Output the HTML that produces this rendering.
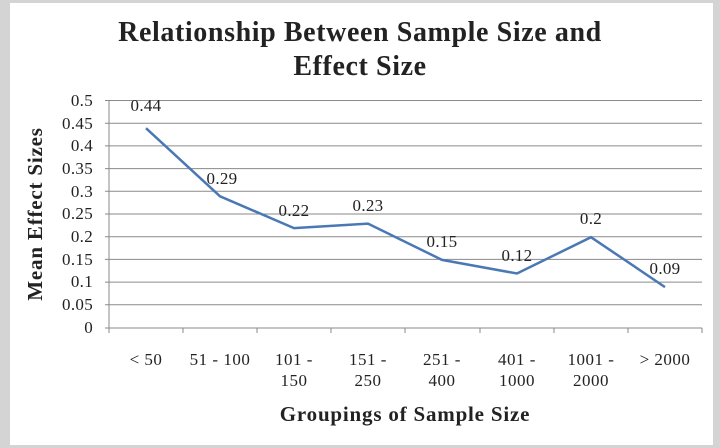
<!DOCTYPE html>
<html><head><style>
body{margin:0;width:720px;height:448px;background:#d4d4d4;overflow:hidden}
svg{display:block}
text{font-family:"Liberation Serif",serif;fill:#222}
</style></head><body>
<svg width="720" height="448" viewBox="0 0 720 448">
<rect x="10" y="3" width="703" height="442" fill="#fff"/>
<text x="360" y="41" text-anchor="middle" font-size="28" font-weight="bold" letter-spacing="0.6">Relationship Between Sample Size and</text>
<text x="360" y="75" text-anchor="middle" font-size="28" font-weight="bold" letter-spacing="0.6">Effect Size</text>
<g stroke="#8a8a8a" stroke-width="1">
<line x1="105" x2="702" y1="100.5" y2="100.5"/><line x1="105" x2="702" y1="123.2" y2="123.2"/>
<line x1="105" x2="702" y1="145.9" y2="145.9"/><line x1="105" x2="702" y1="168.6" y2="168.6"/>
<line x1="105" x2="702" y1="191.3" y2="191.3"/><line x1="105" x2="702" y1="214" y2="214"/>
<line x1="105" x2="702" y1="236.7" y2="236.7"/><line x1="105" x2="702" y1="259.4" y2="259.4"/>
<line x1="105" x2="702" y1="282.1" y2="282.1"/><line x1="105" x2="702" y1="304.8" y2="304.8"/>
<line x1="105" x2="702" y1="328" y2="328"/>
<line x1="109" x2="109" y1="100" y2="333"/>
<line x1="183" x2="183" y1="328" y2="333"/><line x1="257" x2="257" y1="328" y2="333"/>
<line x1="331" x2="331" y1="328" y2="333"/><line x1="405" x2="405" y1="328" y2="333"/>
<line x1="480" x2="480" y1="328" y2="333"/><line x1="554" x2="554" y1="328" y2="333"/>
<line x1="628" x2="628" y1="328" y2="333"/><line x1="702" x2="702" y1="328" y2="333"/>
</g>
<g font-size="17" text-anchor="end" letter-spacing="0.3">
<text x="93" y="106">0.5</text><text x="93" y="129">0.45</text><text x="93" y="151">0.4</text>
<text x="93" y="174">0.35</text><text x="93" y="197">0.3</text><text x="93" y="219">0.25</text>
<text x="93" y="242">0.2</text><text x="93" y="265">0.15</text><text x="93" y="287">0.1</text>
<text x="93" y="310">0.05</text><text x="93" y="333">0</text>
</g>
<text transform="translate(42,214) rotate(-90)" text-anchor="middle" font-size="21" font-weight="bold" letter-spacing="0.8">Mean Effect Sizes</text>
<g font-size="17" text-anchor="middle" letter-spacing="0.5">
<text x="146" y="365">&lt; 50</text><text x="220" y="365">51 - 100</text>
<text x="294" y="365">101 -</text><text x="294" y="386">150</text>
<text x="368" y="365">151 -</text><text x="368" y="386">250</text>
<text x="442" y="365">251 -</text><text x="442" y="386">400</text>
<text x="517" y="365">401 -</text><text x="517" y="386">1000</text>
<text x="591" y="365">1001 -</text><text x="591" y="386">2000</text>
<text x="665" y="365">&gt; 2000</text>
</g>
<text x="405" y="421" text-anchor="middle" font-size="21" font-weight="bold" letter-spacing="0.8">Groupings of Sample Size</text>
<polyline fill="none" stroke="#4a78b5" stroke-width="2.5" points="146,128.2 220,196.3 294,228.1 368,223.6 442,259.9 517,273.5 591,237.2 665,287.1"/>
<g font-size="17" text-anchor="middle" letter-spacing="0.3">
<text x="146" y="111">0.44</text><text x="222" y="184">0.29</text><text x="294" y="216">0.22</text>
<text x="368" y="211">0.23</text><text x="442" y="247">0.15</text><text x="517" y="261">0.12</text>
<text x="591" y="224">0.2</text><text x="665" y="274">0.09</text>
</g>
</svg>
</body></html>
